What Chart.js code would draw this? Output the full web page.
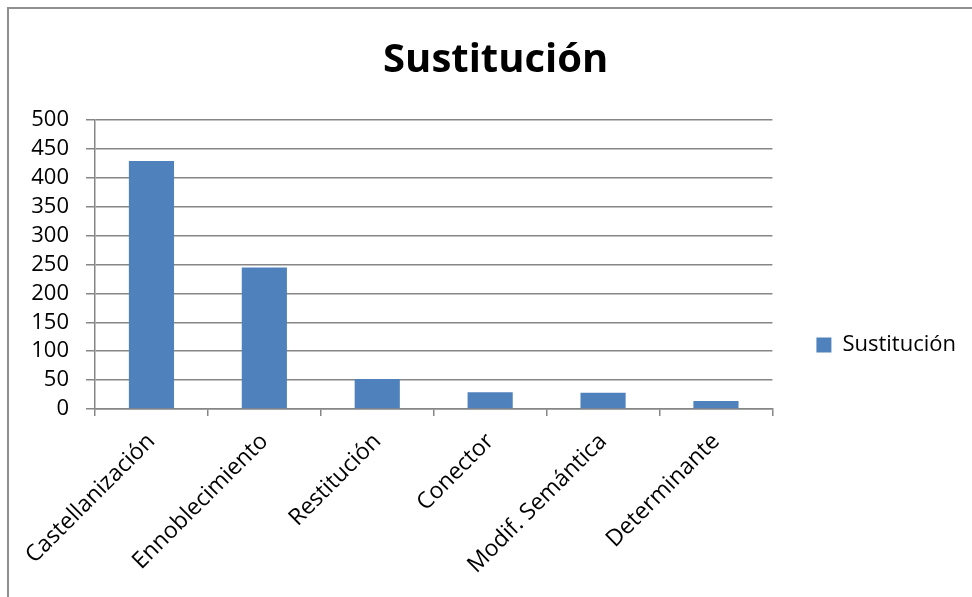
<!DOCTYPE html>
<html>
<head>
<meta charset="utf-8">
<script src="https://cdn.jsdelivr.net/npm/chart.js@4.4.1/dist/chart.umd.min.js"></script>
<style>
  html, body { margin: 0; padding: 0; background: #ffffff; overflow: hidden; width: 972px; height: 597px; }
  #frame { position: absolute; left: 7px; top: 7px; width: 1100px; height: 800px; border: 2px solid #8f8f8f; pointer-events: none; z-index: 2; }
  #chart { position: absolute; left: -1px; top: 9px; z-index: 1; }
</style>
</head>
<body>
<div id="frame"></div>
<canvas id="chart" width="980" height="672"></canvas>
<script>
// Sustitución: number of cases per type
const categories = ['Castellanización', 'Ennoblecimiento', 'Restitución', 'Conector', 'Modif. Semántica', 'Determinante'];
const seriesName = 'Sustitución';
const seriesValues = [429, 245, 52, 29, 28, 14];
const yTicks = [0, 50, 100, 150, 200, 250, 300, 350, 400, 450, 500];

const FONT = '"Open Sans", "Noto Sans", sans-serif';
const GRID = '#868686';
const BAR = '#4F81BD';

// legend width is measured so the plot and the centred title keep fixed positions
const legendFont = { family: FONT, size: 22 };
const mctx = document.createElement('canvas').getContext('2d');
mctx.font = legendFont.size + 'px ' + FONT;
const legendTextW = mctx.measureText(seriesName).width;
const legendPad = 44;
const legendW = legendPad + 15 + legendFont.size / 2 + legendTextW + 10;
const plotLeft = 96, plotRight = 773;          // canvas coordinates
const padLeft = Math.max(0, 2 * 496.5 - plotRight - legendW);
const canvas = document.getElementById('chart');
canvas.width = Math.ceil(plotRight + legendW);

new Chart(canvas, {
  type: 'bar',
  data: {
    labels: categories,
    datasets: [{
      label: seriesName,
      data: seriesValues,
      backgroundColor: BAR,
      borderWidth: 0,
      barPercentage: 0.4,
      categoryPercentage: 1.0
    }]
  },
  options: {
    responsive: false,
    animation: false,
    events: [],
    layout: { padding: { left: padLeft, right: 0, top: 0, bottom: 0 } },
    plugins: {
      title: {
        display: true,
        text: seriesName,
        color: '#000000',
        font: { family: FONT, size: 40, weight: 'bold', lineHeight: 1.2 },
        padding: { top: 28, bottom: 35 }
      },
      legend: {
        display: true,
        position: 'right',
        align: 'center',
        labels: {
          color: '#000000',
          font: legendFont,
          boxWidth: 15,
          boxHeight: 15,
          padding: legendPad
        }
      },
      tooltip: { enabled: false }
    },
    scales: {
      x: {
        grid: {
          display: true,
          drawOnChartArea: false,
          drawTicks: true,
          tickLength: 7,
          color: GRID,
          lineWidth: 1.5,
          offset: true
        },
        border: { display: true, color: GRID, width: 1.5 },
        ticks: {
          color: '#000000',
          font: { family: FONT, size: 23 },
          minRotation: 45,
          maxRotation: 45,
          autoSkip: false,
          padding: 12
        },
        afterFit: (scale) => { scale.height = 272; }
      },
      y: {
        min: 0,
        max: 500,
        afterBuildTicks: (scale) => { scale.ticks = yTicks.map(v => ({ value: v })); },
        grid: {
          display: true,
          drawOnChartArea: true,
          drawTicks: true,
          tickLength: 9,
          color: GRID,
          lineWidth: 1.5
        },
        border: { display: true, color: GRID, width: 1.5 },
        ticks: {
          color: '#000000',
          font: { family: FONT, size: 22 },
          padding: 17,
          autoSkip: false,
          stepSize: 50
        },
        afterFit: (scale) => { scale.width = plotLeft - padLeft; }
      }
    }
  }
});
</script>
</body>
</html>
